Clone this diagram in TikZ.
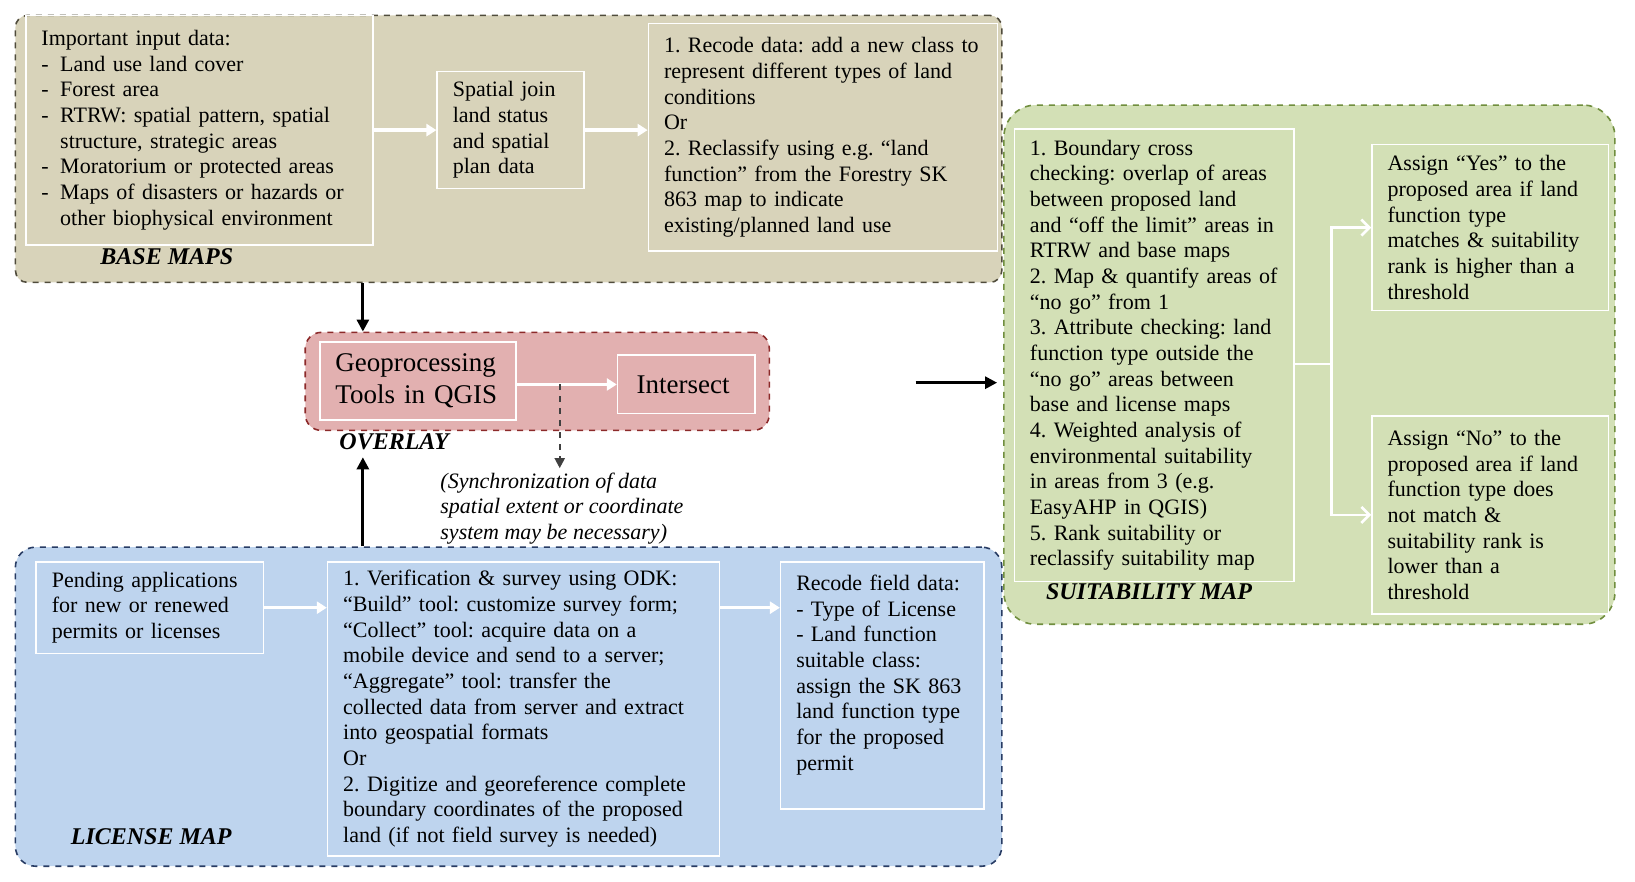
\documentclass[tikz,border=0pt]{standalone}
\usepackage{fontspec}
\setmainfont{Liberation Serif}
\usetikzlibrary{
  positioning,
  calc,
  arrows.meta}
\definecolor{basecolor}{RGB}{216,211,186}
\definecolor{baseframe}{RGB}{80,76,60}
\definecolor{overlaycolor}{RGB}{226,176,176}
\definecolor{overlayframe}{RGB}{140,42,42}
\definecolor{licensecolor}{RGB}{190,212,238}
\definecolor{licenseframe}{RGB}{40,60,100}
\definecolor{suitcolor}{RGB}{211,224,182}
\definecolor{suitframe}{RGB}{112,142,62}
\definecolor{hintcolor}{RGB}{64,64,64}
\newcommand{\bodyfont}{\fontsize{11}{12.83}\selectfont}
\newcommand{\toolfont}{\fontsize{13.5}{15.64}\selectfont}
\newcommand{\bitem}{\makebox[9.4pt][l]{-}}
\newcommand{\bindent}{\hspace*{9.4pt}}
\tikzset{
  %% stagegroup : dashed rounded frame round one stage
  stagegroup/.style={
    rectangle,
    dashed,
    line width=0.8pt,
    anchor=north west,
    inner sep=0pt
  },
  %% textbox : white framed text box inside a stage
  textbox/.style={
    rectangle,
    draw=white,
    line width=0.8pt,
    anchor=north west,
    inner xsep=7.8pt,
    inner ysep=0pt,
    align=left,
    font=\bodyfont
  },
  %% stagelabel : name of a stage
  stagelabel/.style={
    font=\fontsize{12}{14}\selectfont\bfseries\itshape
  },
  %% white_arrow : flow inside a stage
  white_arrow/.style={draw=white, line width=1.6pt, -{Triangle[length=5pt, width=6pt]}},
  %% black_arrow : flow between stages
  black_arrow/.style={draw=black, line width=1.4pt, -{Triangle[length=6pt, width=6pt]}},
  %% hint_arrow : dashed pointer to a remark
  hint_arrow/.style={draw=hintcolor, line width=1pt, dashed, -{Triangle[length=5pt, width=5pt]}},
  %% fork_arrow : branches to the two results
  fork_arrow/.style={draw=white, line width=1.3pt, -{Straight Barb[length=4pt, width=8pt]}}
}

\begin{document}
\frenchspacing
\begin{tikzpicture}
  [x=0.52135pt,
  y=-0.52135pt]
  \useasboundingbox (0,0) rectangle (1568,845);

  %% Stage frames
  \node (basegrp) [stagegroup, draw=baseframe, fill=basecolor, rounded corners=6pt,
    minimum width=493.2pt, minimum height=133.5pt] at (14,14) {};
  \node (ovlgrp) [stagegroup, draw=overlayframe, fill=overlaycolor, rounded corners=8pt,
    minimum width=232pt, minimum height=49pt] at (292,318) {};
  \node (licgrp) [stagegroup, draw=licenseframe, fill=licensecolor, rounded corners=10pt,
    minimum width=493.2pt, minimum height=159.5pt] at (14,524) {};
  \node (suitgrp) [stagegroup, draw=suitframe, fill=suitcolor, rounded corners=16pt,
    minimum width=305.5pt, minimum height=259.6pt] at (962,100) {};

  %% Base maps
  \node (inputdata) [textbox, text width=158pt, minimum height=114.7pt] at (24,14) {%
    Important input data:\\
    \bitem Land use land cover\\
    \bitem Forest area\\
    \bitem RTRW: spatial pattern, spatial\\
    \bindent structure, strategic areas\\
    \bitem Moratorium or protected areas\\
    \bitem Maps of disasters or hazards or\\
    \bindent other biophysical environment
  };

  \node (spatialjoin) [textbox, text width=57.9pt, minimum height=58.4pt, anchor=west,
    right=31.3pt of inputdata]{%
    Spatial join\\land status\\and spatial\\plan data
  };

  \node (recode) [textbox, text width=159pt, minimum height=113.7pt, anchor=west,
    right=31.3pt of spatialjoin, yshift=-3.65pt]{%
    1. Recode data: add a new class to\\
    represent different types of land\\
    conditions\\
    Or\\
    2. Reclassify using e.g. “land\\
    function” from the Forestry SK\\
    863 map to indicate\\
    existing/planned land use
  };

  \node (baselabel) [stagelabel] at (160,246) {BASE MAPS};

  %% Overlay
  \node (geo) [textbox, text width=82.4pt, minimum height=39.1pt, font=\toolfont] at (306,327) {%
    Geoprocessing\\Tools in QGIS
  };

  \node (intersect) [textbox, align=center, inner xsep=0pt, minimum width=68.8pt,
    minimum height=29.2pt, font=\toolfont, anchor=west,
    right=50.05pt of geo, yshift=-1.8pt]{%
    Intersect
  };

  \node (ovllabel) [stagelabel] at (378,424) {OVERLAY};

  \node (sync) [anchor=north west, inner sep=0pt, align=left,
    font=\fontsize{11}{12.77}\selectfont\itshape] at (422,453) {%
    (Synchronization of data\\
    spatial extent or coordinate\\
    system may be necessary)
  };

  %% License map
  \node (pending) [textbox, text width=98pt, minimum height=45.9pt] at (34,538) {%
    Pending applications\\for new or renewed\\permits or licenses
  };

  \node (verify) [textbox, text width=180.4pt, minimum height=147pt]
    at ($(pending.north east)+(60,0)$) {%
    1. Verification \& survey using ODK:\\
    “Build” tool: customize survey form;\\
    “Collect” tool: acquire data on a\\
    mobile device and send to a server;\\
    “Aggregate” tool: transfer the\\
    collected data from server and extract\\
    into geospatial formats\\
    Or\\
    2. Digitize and georeference complete\\
    boundary coordinates of the proposed\\
    land (if not field survey is needed)
  };

  \node (fieldrecode) [textbox, text width=86.1pt, minimum height=123.6pt]
    at ($(verify.north east)+(57,0)$) {%
    Recode field data:\\
    - Type of License\\
    - Land function\\
    suitable class:\\
    assign the SK 863\\
    land function type\\
    for the proposed\\
    permit\\
    \mbox{}
  };

  \node (liclabel) [stagelabel] at (145,802) {LICENSE MAP};

  %% Suitability map
  \node (checks) [textbox, text width=124.1pt, minimum height=226.3pt] at (972,123) {%
    1. Boundary cross\\
    checking: overlap of areas\\
    between proposed land\\
    and “off the limit” areas in\\
    RTRW and base maps\\
    2. Map \& quantify areas of\\
    “no go” from 1\\
    3. Attribute checking: land\\
    function type outside the\\
    “no go” areas between\\
    base and license maps\\
    4. Weighted analysis of\\
    environmental suitability\\
    in areas from 3 (e.g.\\
    EasyAHP in QGIS)\\
    5. Rank suitability or\\
    reclassify suitability map
  };

  \node (yes) [textbox, text width=102.7pt, minimum height=82.9pt] at (1315,138) {%
    Assign “Yes” to the\\
    proposed area if land\\
    function type\\
    matches \& suitability\\
    rank is higher than a\\
    threshold
  };

  \node (no) [textbox, text width=102.7pt, minimum height=99.1pt] at (1315,398) {%
    Assign “No” to the\\
    proposed area if land\\
    function type does\\
    not match \&\\
    suitability rank is\\
    lower than a\\
    threshold
  };

  \node (suitlabel) [stagelabel] at (1102,567) {SUITABILITY MAP};

  %% Connections inside the stages
  \draw [white_arrow] (inputdata.east) -- (spatialjoin.west);
  \draw [white_arrow] (spatialjoin.east) -- (spatialjoin.east -| recode.west);
  \draw [white_arrow] (geo.east |- intersect.west) -- (intersect.west);
  \draw [white_arrow] (pending.east) -- (pending.east -| verify.west);
  \draw [white_arrow] (verify.east |- pending.east) -- (fieldrecode.west |- pending.east);

  \coordinate (fork) at (1277,349);
  \draw [draw=white, line width=1.3pt] (checks.east |- fork) -- (fork);
  \draw [fork_arrow] (fork) |- (yes.west);
  \draw [fork_arrow] (fork) |- (no.west);

  %% Remark
  \coordinate (syncsplit) at ($(geo.east |- intersect.west)!0.43!(intersect.west)$);
  \draw [hint_arrow] (syncsplit) -- ($(syncsplit |- sync.north)+(0,-4)$);

  %% Connections between the stages
  \coordinate (ovlentry) at ($(ovlgrp.north west)+(56,0)$);
  \draw [black_arrow] (basegrp.south -| ovlentry) -- (ovlentry);
  \draw [black_arrow] (licgrp.north -| ovlentry) -- (ovlentry |- ovllabel.south);

  \coordinate (suitentry) at (878,367);
  \draw [black_arrow, shorten >=3pt] (suitentry) -- (suitentry -| suitgrp.west);

\end{tikzpicture}
\end{document}
